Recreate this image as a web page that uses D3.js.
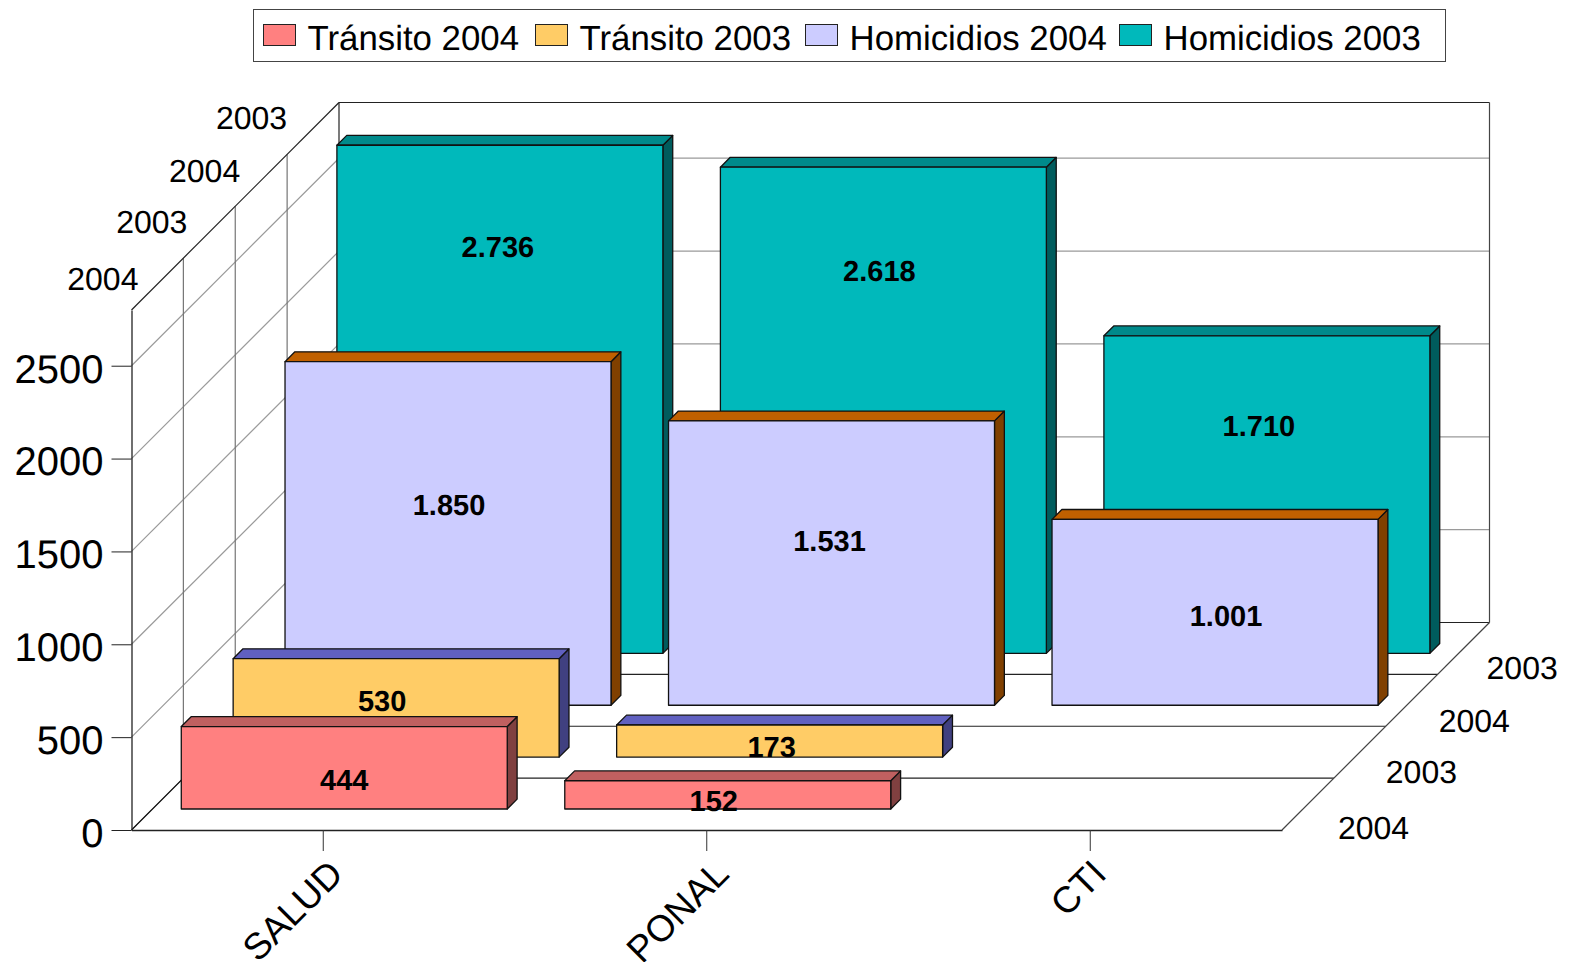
<!DOCTYPE html>
<html>
<head>
<meta charset="utf-8">
<title>Tránsito y Homicidios</title>
<script src="https://cdnjs.cloudflare.com/ajax/libs/d3/7.8.5/d3.min.js"></script>
<style>
  html, body { margin: 0; padding: 0; background: #fff; }
  svg { display: block; }
  text { font-family: "Liberation Sans", Arial, sans-serif; fill: #000; text-rendering: geometricPrecision; }
</style>
</head>
<body>
<svg id="chart" width="1569" height="962"></svg>
<script>
// --- Data (front row first)
const categories = ['SALUD', 'PONAL', 'CTI'];
const seriesNames = ['Tránsito 2004', 'Tránsito 2003', 'Homicidios 2004', 'Homicidios 2003'];
const rowLabels = ['2004', '2003', '2004', '2003'];
const transito2004 = [444, 152, null];
const transito2003 = [530, 173, null];
const homicidios2004 = [1850, 1531, 1001];
const homicidios2003 = [2736, 2618, 1710];
const yTicks = [0, 500, 1000, 1500, 2000, 2500];
const yMax = 2800;

const rows = [transito2004, transito2003, homicidios2004, homicidios2003];

// --- Colours: face, top, side
const faceColors = ['#ff8080', '#ffcc66', '#ccccff', '#00b9bb'];
const topColors = ['#c06060', '#6060c0', '#c06000', '#008a8b'];
const sideColors = ['#804040', '#404080', '#804000', '#005c5d'];

// --- Scales
const plotLeft = 131.5, plotRight = 1282, plotBottom = 830, plotTop = 310, depth = 207.5;
const x = d3.scaleBand().domain(categories).range([plotLeft, plotRight]).paddingInner(0.15).paddingOuter(0.075);
const y = d3.scaleLinear().domain([0, yMax]).range([plotBottom, plotTop]);
const z = d3.scaleBand().domain(d3.range(rows.length)).range([0, depth]).paddingInner(0.81).paddingOuter(0.405);

const svg = d3.select('#chart');
const poly = d3.line();
// oblique projection: depth moves a point up and to the right
const pt = (px, value, d) => [px + d, y(value) - d];

// --- Walls
const walls = svg.append('g').attr('fill', 'none');
const seg = (a, b, color, w = 1.2) => walls.append('path').attr('d', poly([a, b])).attr('stroke', color).attr('stroke-width', w);

yTicks.filter(t => t > 0).forEach(t => {
  seg(pt(plotLeft, t, 0), pt(plotLeft, t, depth), '#9a9a9a');
  seg(pt(plotLeft, t, depth), pt(plotRight, t, depth), '#9a9a9a');
});
d3.range(1, rows.length).forEach(i => {
  const d = i * z.step();
  seg(pt(plotLeft, 0, d), pt(plotLeft, yMax, d), '#757575');
  seg(pt(plotLeft, 0, d), pt(plotRight, 0, d), '#222');
});
seg(pt(plotLeft, 0, depth), pt(plotRight, 0, depth), '#222');
seg(pt(plotLeft, 0, depth), pt(plotLeft, yMax, depth), '#222');
seg(pt(plotLeft, yMax, depth), pt(plotRight, yMax, depth), '#222');
seg(pt(plotRight, yMax, depth), pt(plotRight, 0, depth), '#444');
seg(pt(plotLeft, yMax, 0), pt(plotLeft, yMax, depth), '#222');
seg(pt(plotLeft, 0, 0), pt(plotLeft, 0, depth), '#000');
seg(pt(plotRight, 0, 0), pt(plotRight, 0, depth), '#444');

// --- Axes
const yAxis = svg.append('g').attr('transform', `translate(${plotLeft},0)`)
  .call(d3.axisLeft(y).tickValues(yTicks).tickSize(20).tickSizeOuter(0).tickFormat(d3.format('d')));
yAxis.select('.domain').attr('stroke', '#222').attr('stroke-width', 1.3);
yAxis.selectAll('.tick line').attr('stroke', '#222');
yAxis.selectAll('.tick text').attr('x', -28).attr('dy', '0.41em').style('font-size', '40px');

const xAxis = svg.append('g').attr('transform', `translate(0,${plotBottom})`)
  .call(d3.axisBottom(x).tickSize(21).tickSizeOuter(0));
xAxis.select('.domain').attr('stroke', '#222').attr('stroke-width', 1.3);
xAxis.selectAll('.tick line').attr('stroke', '#333');
const catNudge = [0, 2, -4];
xAxis.selectAll('.tick text')
  .attr('x', 0).attr('y', 0).attr('dy', 0)
  .attr('text-anchor', 'end')
  .attr('transform', (d, i) => `translate(${22 + catNudge[i]},46) rotate(-45)`)
  .style('font-size', '37px');

// --- Depth labels on both floor/wall edges
const rightNudge = [[6, 23.5], [2, 19.5], [3, 20.5], [-1, 19.5]];
const leftNudge = [[-19, -6], [-22, -11], [-21, -10], [-26, -11]];
rowLabels.forEach((label, i) => {
  const d = z(i) + z.bandwidth() / 2;
  const r = pt(plotRight, 0, d), l = pt(plotLeft, yMax, d);
  svg.append('text').attr('x', r[0] + 24 + rightNudge[i][0]).attr('y', r[1] + rightNudge[i][1])
    .attr('dy', '0.36em').style('font-size', '32px').text(label);
  svg.append('text').attr('x', l[0] + leftNudge[i][0]).attr('y', l[1] + leftNudge[i][1])
    .attr('dy', '0.36em').attr('text-anchor', 'end').style('font-size', '32px').text(label);
});

// --- Bars, back row first so the front ones paint over
const bars = svg.append('g').attr('stroke', '#111').attr('stroke-width', 1.3).attr('stroke-linejoin', 'round');
d3.range(rows.length).reverse().forEach(i => {
  const d0 = z(i), d1 = d0 + z.bandwidth();
  categories.forEach((cat, c) => {
    const v = rows[i][c];
    if (v == null) return;
    const x0 = x(cat), x1 = x0 + x.bandwidth();
    const g = bars.append('g');
    g.append('path').attr('fill', sideColors[i])
      .attr('d', poly([pt(x1, 0, d0), pt(x1, 0, d1), pt(x1, v, d1), pt(x1, v, d0)]) + 'Z');
    g.append('path').attr('fill', topColors[i])
      .attr('d', poly([pt(x0, v, d0), pt(x0, v, d1), pt(x1, v, d1), pt(x1, v, d0)]) + 'Z');
    g.append('path').attr('fill', faceColors[i])
      .attr('d', poly([pt(x0, 0, d0), pt(x1, 0, d0), pt(x1, v, d0), pt(x0, v, d0)]) + 'Z');
  });
});

// --- Value labels (the original places them loosely, hence the nudges)
const fmt = d3.formatLocale({ decimal: ',', thousands: '.', grouping: [3], currency: ['', ''] }).format(',');
const labelNudge = [
  [[0, 12], [-14, 6], null],
  [[-14, -7], [-8, 6], null],
  [[1, -29], [-2, -23], [11, 3]],
  [[-2, -153], [-4, -140], [-8, -69]]
];
rows.forEach((row, i) => {
  row.forEach((v, c) => {
    if (v == null) return;
    const cx = x(categories[c]) + x.bandwidth() / 2;
    const p = pt(cx, v / 2, z(i));
    svg.append('text')
      .attr('x', p[0] + labelNudge[i][c][0]).attr('y', p[1] + labelNudge[i][c][1])
      .attr('dy', '0.36em').attr('text-anchor', 'middle')
      .style('font-size', '29px').style('font-weight', 'bold')
      .text(fmt(v));
  });
});

// --- Legend
const legend = svg.append('g');
legend.append('rect').attr('x', 253.5).attr('y', 9.5).attr('width', 1192).attr('height', 52)
  .attr('fill', '#fff').attr('stroke', '#444');
let lx = 263.5;
const legendGap = [272, 270, 314];
seriesNames.forEach((name, i) => {
  legend.append('rect').attr('x', lx).attr('y', 24.5).attr('width', 32).attr('height', 21)
    .attr('fill', faceColors[i]).attr('stroke', '#222');
  legend.append('text').attr('x', lx + 44).attr('y', 37).attr('dy', '0.36em')
    .style('font-size', '34.8px').text(name);
  lx += legendGap[i] || 0;
});
</script>
</body>
</html>
